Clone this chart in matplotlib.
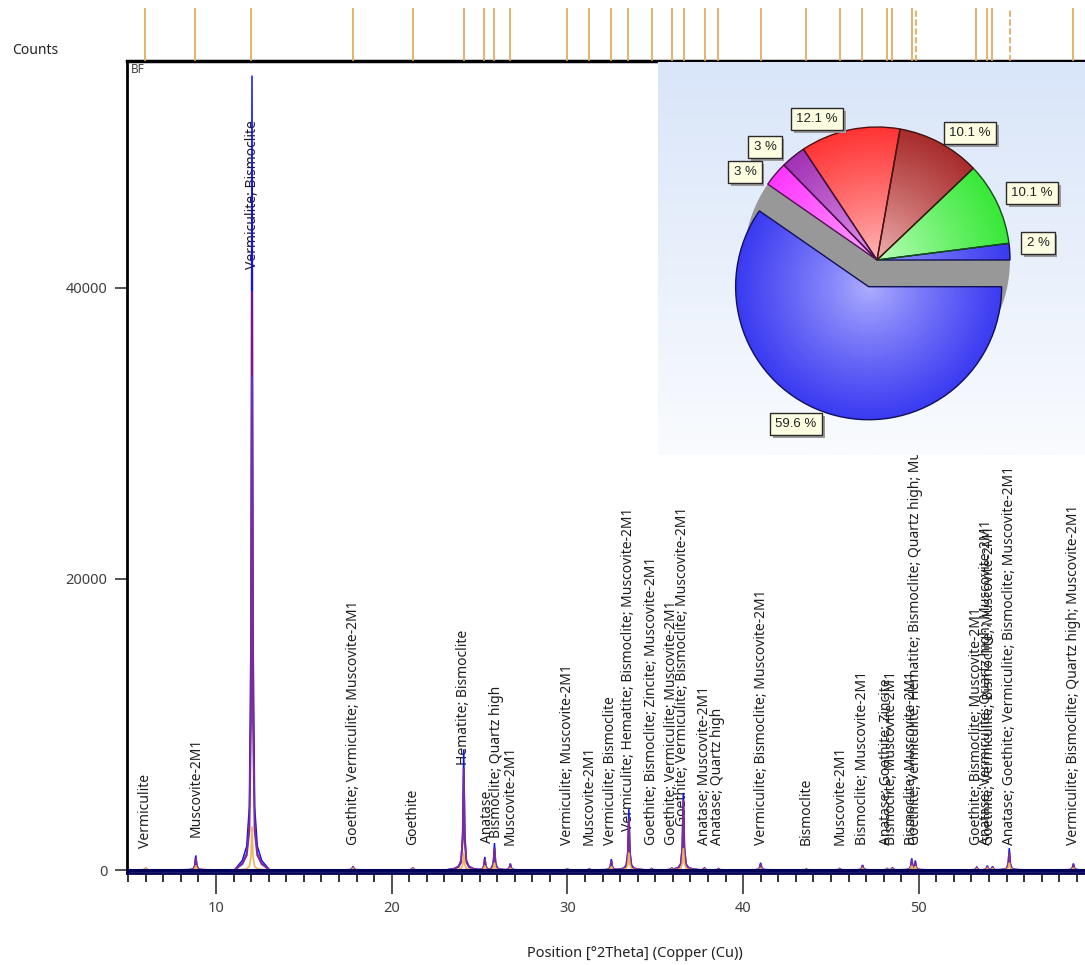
import numpy as np
import matplotlib
matplotlib.use('Agg')
import matplotlib.pyplot as plt
import matplotlib.patheffects as pe
from matplotlib.ticker import MultipleLocator
from matplotlib.patches import Wedge
from matplotlib.colors import to_rgb

plt.rcParams['font.family'] = ['Noto Sans', 'DejaVu Sans']

# Pozycje linii wzorcowych [°2Theta]
ref_pos = [5.96, 8.80, 11.99, 17.80, 21.21, 24.11, 25.25, 25.82, 26.73, 29.98,
           31.23, 32.48, 33.45, 34.81, 35.95, 36.64, 37.83, 38.57, 41.02, 43.58,
           45.51, 46.77, 48.19, 48.47, 49.61, 49.84, 53.26, 53.88, 54.17, 55.19,
           58.78]
ref_dashed = [49.84, 55.19]

# Refleksy dyfraktogramu: pozycja i intensywność [counts]
peak_pos = [6.0, 8.85, 12.05, 17.8, 21.2, 24.1, 25.3, 25.85, 26.75, 30.0,
            31.25, 32.5, 33.5, 34.8, 35.95, 36.6, 37.8, 38.6, 41.0, 43.6,
            45.5, 46.8, 48.2, 48.5, 49.6, 49.8, 53.3, 53.9, 54.2, 55.15, 58.8]
obs_counts = [120, 1000, 54600, 250, 150, 8300, 900, 1850, 450, 80,
              80, 750, 4200, 100, 150, 5300, 150, 100, 500, 60,
              100, 350, 100, 150, 800, 650, 200, 300, 250, 1500, 450]
fit_counts = [100, 850, 34000, 220, 120, 7000, 750, 1500, 380, 60,
              60, 650, 3600, 80, 120, 4800, 130, 80, 420, 50,
              80, 300, 80, 130, 700, 550, 170, 250, 200, 1250, 380]
calc_counts = [80, 600, 39800, 180, 100, 6200, 600, 1200, 300, 50,
               50, 500, 2900, 60, 100, 3900, 100, 60, 330, 40,
               60, 240, 60, 100, 550, 450, 130, 200, 160, 1000, 300]
phase_counts = [150, 300, 3000, 120, 80, 1200, 300, 500, 150, 40,
                40, 250, 1200, 50, 60, 1500, 60, 40, 150, 30,
                50, 120, 50, 60, 300, 250, 80, 120, 100, 500, 150]

# Opisy faz przy refleksach
label_pos = [5.96, 8.85, 12.05, 17.8, 21.21, 24.11, 25.45, 25.95, 26.75, 29.98,
             31.23, 32.48, 33.45, 34.81, 35.95, 36.55, 37.83, 38.57, 41.02, 43.58,
             45.51, 46.77, 48.19, 48.47, 49.61, 49.84, 53.26, 53.88, 54.05, 55.19,
             58.78]
label_text = [
    "Vermiculite",
    "Muscovite-2M1",
    "Vermiculite; Bismoclite",
    "Goethite; Vermiculite; Muscovite-2M1",
    "Goethite",
    "Hematite; Bismoclite",
    "Anatase",
    "Bismoclite; Quartz high",
    "Muscovite-2M1",
    "Vermiculite; Muscovite-2M1",
    "Muscovite-2M1",
    "Vermiculite; Bismoclite",
    "Vermiculite; Hematite; Bismoclite; Muscovite-2M1",
    "Goethite; Bismoclite; Zincite; Muscovite-2M1",
    "Goethite; Vermiculite; Muscovite-2M1",
    "Goethite; Vermiculite; Bismoclite; Muscovite-2M1",
    "Anatase; Muscovite-2M1",
    "Anatase; Quartz high",
    "Vermiculite; Bismoclite; Muscovite-2M1",
    "Bismoclite",
    "Muscovite-2M1",
    "Bismoclite; Muscovite-2M1",
    "Anatase; Goethite; Zincite",
    "Bismoclite; Muscovite-2M1",
    "Bismoclite; Muscovite-2M1",
    "Goethite; Vermiculite; Hematite; Bismoclite; Quartz high; Muscovite-2M1",
    "Goethite; Bismoclite; Muscovite-2M1",
    "Anatase; Vermiculite; Quartz high; Muscovite-2M1",
    "Goethite; Vermiculite; Bismoclite; Muscovite-2M1",
    "Anatase; Goethite; Vermiculite; Bismoclite; Muscovite-2M1",
    "Vermiculite; Bismoclite; Quartz high; Muscovite-2M1",
]
label_base = [1500, 2300, 41300, 1700, 1700, 7200, 1850, 2200, 1700, 1700,
              1700, 1700, 2700, 1700, 1700, 3000, 1700, 1700, 1700, 1700,
              1700, 1700, 1700, 1700, 1700, 1700, 1700, 1700, 1700, 1700,
              1700]

# Udziały faz (wykres kołowy)
phase_share = [2, 10.1, 10.1, 12.1, 3, 3, 59.6]
share_colors = ['#3a3af0', '#38e838', '#a82c2c', '#ff3434', '#a232b4', '#ff36ff', '#3a3af2']
share_light = ['#9a9aff', '#c0ffc0', '#f2b6b6', '#ffbcbc', '#e8a0f4', '#ffb0ff', '#b0b0ff']
share_edges = ['#10105a', '#105010', '#401010', '#501010', '#401040', '#501050', '#10105a']
share_label_xy = [(380, 212), (374, 262), (312, 322), (159, 336), (107, 308), (87, 283), (138, 31)]

# Kształt pojedynczego refleksu (przesunięcie w °2Theta, ułamek wysokości)
PROFILE_DX = np.array([-1.0, -0.55, -0.3, -0.15, -0.06, 0.0, 0.06, 0.15, 0.3, 0.55, 1.0])
PROFILE_FRAC = np.array([0.0, 0.012, 0.03, 0.08, 0.3, 1.0, 0.3, 0.08, 0.03, 0.012, 0.0])

W, H = 1085, 965
fig = plt.figure(figsize=(W / 100, H / 100), dpi=100)

# --- główny wykres ---
ax = fig.add_axes([127 / W, 1 - 873 / H, 1 - 127 / W, (873 - 61) / H])
ax.set_xlim(4.935, 59.46)
ax.set_ylim(-206, 55600)

series = [
    (obs_counts, '#1010ff', 1.1, 2.0),
    (calc_counts, '#c8102e', 0.8, 2.2),
    (fit_counts, '#7a2c9e', 1.4, 2.4),
    (phase_counts, '#f2b45a', 1.2, 2.6),
]
for counts, color, lw, z in series:
    for x0, h in zip(peak_pos, counts):
        ax.plot(x0 + PROFILE_DX, h * PROFILE_FRAC, color=color, lw=lw, zorder=z,
                solid_joinstyle='miter')
ax.axhline(0, color='#000058', lw=2.2, zorder=3)

for x0, txt, y0 in zip(label_pos, label_text, label_base):
    ax.text(x0, y0, txt, rotation=90, ha='center', va='bottom', fontsize=10,
            color='#1e1e1e', zorder=1.5)

ax.set_xticks([10, 20, 30, 40, 50])
ax.xaxis.set_minor_locator(MultipleLocator(1))
ax.set_yticks([0, 20000, 40000])
ax.set_yticklabels(['0', '20000', '40000'])
ax.tick_params(axis='x', which='major', length=15, width=1.3, color='#444444',
               labelsize=10.5, labelcolor='#404040', pad=5)
ax.tick_params(axis='x', which='minor', length=6.5, width=1.3, color='#222222')
ax.tick_params(axis='y', which='major', length=9, width=1.3, color='#444444',
               labelsize=10.5, labelcolor='#404040', pad=5)
ax.spines['right'].set_visible(False)
ax.spines['left'].set_linewidth(2)
ax.spines['top'].set_linewidth(2.5)
ax.spines['bottom'].set_color('#000058')
ax.spines['bottom'].set_linewidth(2)

ax.text(0.004, 0.997, 'BF', transform=ax.transAxes, ha='left', va='top',
        fontsize=8.5, color='#444444')
ax.set_xlabel('Position [°2Theta] (Copper (Cu))', fontsize=10.5, color='#222222')
ax.xaxis.set_label_coords(0.53, -0.09)
fig.text(12 / W, 1 - 50 / H, 'Counts', ha='left', va='center', fontsize=10,
         color='#222222')

# --- linie wzorcowe nad wykresem ---
ax_ref = fig.add_axes([127 / W, 1 - 61 / H, 1 - 127 / W, (61 - 8) / H])
ax_ref.set_xlim(ax.get_xlim())
ax_ref.set_ylim(0, 1)
ax_ref.axis('off')
for x0 in ref_pos:
    ls = '--' if x0 in ref_dashed else '-'
    ax_ref.plot([x0, x0], [0, 1], color='#e3a550', lw=1.2, ls=ls)

# --- wstawka z wykresem kołowym ---
iw, ih = 427, 393
ax_in = fig.add_axes([658 / W, 1 - 455 / H, iw / W, ih / H], zorder=10)
top_c = np.array(to_rgb('#d9e5f9'))
bot_c = np.array(to_rgb('#f9fbfe'))
t = np.linspace(0, 1, 200)[:, None, None]
bg = (bot_c * (1 - t) + top_c * t) * np.ones((1, 2, 3))
ax_in.imshow(bg, extent=(0, iw, 0, ih), origin='lower', aspect='auto', zorder=0)

pie_center = (219, 195)
pie_r = 133
explode = [0, 0, 0, 0, 0, 0, 28]
wedges, _ = ax_in.pie(phase_share, colors=share_colors, startangle=0, counterclock=True,
                      radius=pie_r, center=pie_center, explode=explode, frame=True,
                      wedgeprops=dict(linewidth=1.0))

# cień pod wysuniętym wycinkiem
big = wedges[-1]
ax_in.add_patch(Wedge(pie_center, pie_r, big.theta1, big.theta2,
                      facecolor='#989898', edgecolor='none', zorder=0.5))

# cieniowanie wycinków (rozjaśnienie przy środku)
for w, base, light, edge in zip(wedges, share_colors, share_light, share_edges):
    cx, cy = w.center
    n = 300
    gx, gy = np.meshgrid(np.linspace(cx - pie_r, cx + pie_r, n),
                         np.linspace(cy - pie_r, cy + pie_r, n))
    d = np.clip(np.hypot(gx - cx, gy - cy) / pie_r, 0, 1)[..., None] ** 0.85
    img = np.array(to_rgb(light)) * (1 - d) + np.array(to_rgb(base)) * d
    im = ax_in.imshow(img, extent=(cx - pie_r, cx + pie_r, cy - pie_r, cy + pie_r),
                      origin='lower', zorder=0.9, interpolation='bilinear')
    im.set_clip_path(w)
    w.set_facecolor('none')
    w.set_edgecolor(edge)
    w.set_zorder(1)

for v, (lx, ly) in zip(phase_share, share_label_xy):
    lab = ax_in.text(lx, ly, f'{v:g} %', ha='center', va='center', fontsize=9.5,
                     family='Liberation Sans', color='#222222', zorder=4,
                     bbox=dict(boxstyle='square,pad=0.4', facecolor='#fdfde2',
                               edgecolor='#2a2a2a', linewidth=1))
    lab.get_bbox_patch().set_path_effects([
        pe.SimplePatchShadow(offset=(2, -2), shadow_rgbFace='#9a9a9a', alpha=1.0),
        pe.Normal()])

ax_in.set_xlim(0, iw)
ax_in.set_ylim(0, ih)
ax_in.set_aspect('auto')
ax_in.axis('off')

fig.savefig('out.png', dpi=100)
